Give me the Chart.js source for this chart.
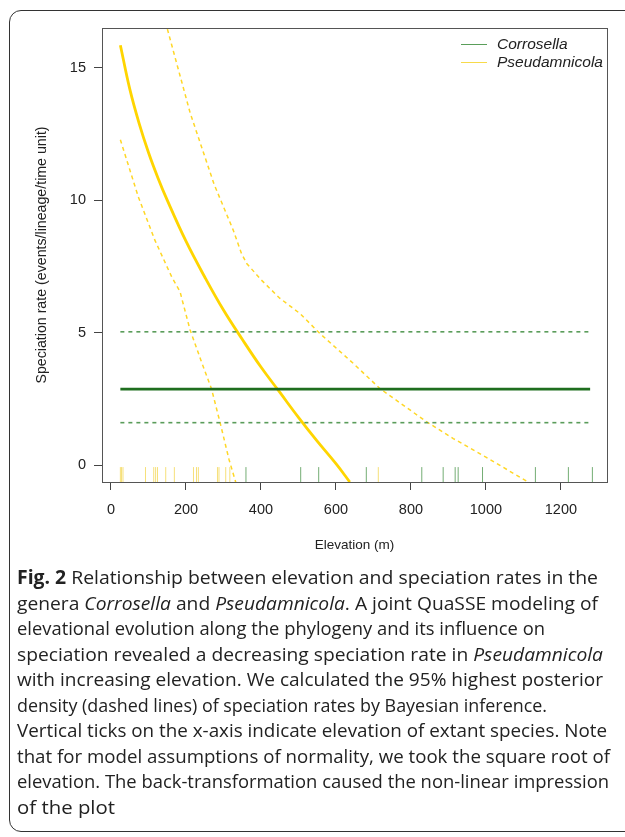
<!DOCTYPE html>
<html>
<head>
<meta charset="utf-8">
<script src="https://cdn.jsdelivr.net/npm/chart.js@4.4.1/dist/chart.umd.min.js"></script>
<style>
  body { margin: 0; background: #fff; width: 625px; height: 837px; overflow: hidden; position: relative; }
  #frame { position: absolute; left: 9px; top: 10px; width: 660px; height: 820px; border: 1.5px solid #333; border-radius: 12px; }
  #chart1 { position: absolute; left: 0; top: 0; }
  .leg { position: absolute; font: italic 15.5px "Liberation Sans", Arial, sans-serif; color: #222; }
  .leg span { display: inline-block; width: 26px; height: 0; vertical-align: middle; margin-right: 10px; }
  #caption { position: absolute; left: 17px; top: 565px; font-family: "Open Sans", sans-serif; font-size: 18.8px; line-height: 25.5px; color: #222; white-space: nowrap; }
  #caption div { height: 25.5px; transform-origin: 0 50%; }
</style>
</head>
<body>
<div id="frame"></div>
<canvas id="chart1" width="625" height="570"></canvas>
<div class="leg" style="left:461px; top:35px;"><span style="border-top:1.5px solid #5a9e5a;"></span>Corrosella</div>
<div class="leg" style="left:461px; top:53px;"><span style="border-top:1.5px solid #f7da4a;"></span>Pseudamnicola</div>
<div id="caption">
<div><b>Fig. 2</b> Relationship between elevation and speciation rates in the</div>
<div>genera <i>Corrosella</i> and <i>Pseudamnicola</i>. A joint QuaSSE modeling of</div>
<div>elevational evolution along the phylogeny and its influence on</div>
<div>speciation revealed a decreasing speciation rate in <i>Pseudamnicola</i></div>
<div>with increasing elevation. We calculated the 95% highest posterior</div>
<div>density (dashed lines) of speciation rates by Bayesian inference.</div>
<div>Vertical ticks on the x-axis indicate elevation of extant species. Note</div>
<div>that for model assumptions of normality, we took the square root of</div>
<div>elevation. The back-transformation caused the non-linear impression</div>
<div>of the plot</div>
</div>
<script>
// Pseudamnicola: media y limites 95% HPD
const elevPseudo = [25, 50, 75, 100, 125, 150, 200, 250, 300, 350, 400, 450, 500, 550, 600, 637];
const ratePseudo = [15.85, 14.2, 12.9, 11.8, 10.85, 10.0, 8.45, 7.1, 5.85, 4.75, 3.7, 2.75, 1.8, 0.9, 0.05, -0.64];

const elevPseudoUp = [120, 150, 211, 275, 326, 348, 362, 400, 450, 504, 557, 646, 717, 842, 913, 1000, 1104, 1150];
const ratePseudoUp = [18.1, 16.48, 13.3, 10.6, 8.87, 7.99, 7.61, 7.0, 6.3, 5.72, 4.97, 3.84, 2.89, 1.63, 1.0, 0.3, -0.57, -0.95];

const elevPseudoLow = [25, 73, 117, 162, 184, 211, 240, 268, 291, 315, 340];
const ratePseudoLow = [12.28, 10.12, 8.49, 7.1, 6.55, 5.1, 3.95, 2.88, 1.6, 0.2, -1.0];

// Corrosella: tasa constante
const elevCorro = [25, 1278];
const rateCorro = [2.87, 2.87];
const rateCorroUp = [5.03, 5.03];
const rateCorroLow = [1.6, 1.6];

// Elevacion de especies actuales (rug)
const rugPseudo = [25, 28, 32, 92, 114, 119, 124, 146, 169, 220, 228, 233, 284, 288, 306, 317, 713];
const rugCorro = [360, 506, 554, 681, 829, 886, 918, 926, 991, 1132, 1220, 1284];

const xTicks = [0, 200, 400, 600, 800, 1000, 1200];
const yTicks = [0, 5, 10, 15];

const RUG_Y = -0.36;

// Ancho de cada linea del pie de figura (px)
const captionWidths = [581, 581, 528, 586, 586, 530, 590, 593, 592, 98];

function pts(xs, ys) {
  return xs.map((x, i) => ({ x: x, y: ys[i] }));
}
function rug(xs) {
  return xs.map(x => ({ x: x, y: RUG_Y }));
}

// Escala horizontal de cada linea para igualar el ancho del original
document.querySelectorAll("#caption div").forEach((el, i) => {
  el.style.display = "inline-block";
  const w = el.getBoundingClientRect().width;
  el.style.display = "block";
  el.style.transform = "scaleX(" + (captionWidths[i] / w) + ")";
});

// Caja alrededor del area del grafico
const boxPlugin = {
  id: "box",
  afterDraw(chart) {
    const a = chart.chartArea;
    const ctx = chart.ctx;
    ctx.save();
    ctx.strokeStyle = "#555";
    ctx.lineWidth = 1;
    ctx.strokeRect(Math.round(a.left) + 0.5, Math.round(a.top) + 0.5, Math.round(a.right - a.left), Math.round(a.bottom - a.top));
    ctx.restore();
  },
};

const tickFont = { family: "'Liberation Sans', Arial, Helvetica, sans-serif", size: 14.5 };

var ctx1 = document.getElementById("chart1").getContext("2d");
var chart1 = new Chart(ctx1, {
  type: "scatter",
  data: {
    datasets: [
      {
        label: "Pseudamnicola rug",
        data: rug(rugPseudo),
        pointStyle: "line",
        rotation: 90,
        pointRadius: 7.5,
        pointBorderWidth: 1,
        pointBorderColor: "#f6e07a",
        pointBackgroundColor: "#f6e07a",
      },
      {
        label: "Corrosella rug",
        data: rug(rugCorro),
        pointStyle: "line",
        rotation: 90,
        pointRadius: 7.5,
        pointBorderWidth: 1,
        pointBorderColor: "#74ad74",
        pointBackgroundColor: "#74ad74",
      },
      {
        label: "Corrosella upper",
        data: pts(elevCorro, rateCorroUp),
        showLine: true,
        borderColor: "#5a9c5a",
        borderWidth: 1.6,
        borderDash: [4, 4],
        pointRadius: 0,
      },
      {
        label: "Corrosella lower",
        data: pts(elevCorro, rateCorroLow),
        showLine: true,
        borderColor: "#5a9c5a",
        borderWidth: 1.6,
        borderDash: [4, 4],
        pointRadius: 0,
      },
      {
        label: "Corrosella",
        data: pts(elevCorro, rateCorro),
        showLine: true,
        borderColor: "#1f6e1f",
        borderWidth: 2.8,
        pointRadius: 0,
      },
      {
        label: "Pseudamnicola upper",
        data: pts(elevPseudoUp, ratePseudoUp),
        showLine: true,
        borderColor: "#ffd726",
        borderWidth: 1.5,
        borderDash: [4, 3.5],
        pointRadius: 0,
      },
      {
        label: "Pseudamnicola lower",
        data: pts(elevPseudoLow, ratePseudoLow),
        showLine: true,
        borderColor: "#ffd726",
        borderWidth: 1.5,
        borderDash: [4, 3.5],
        pointRadius: 0,
      },
      {
        label: "Pseudamnicola",
        data: pts(elevPseudo, ratePseudo),
        showLine: true,
        borderColor: "#ffd500",
        borderWidth: 2.8,
        tension: 0.4,
        pointRadius: 0,
      },
    ],
  },
  options: {
    responsive: false,
    animation: false,
    events: [],
    layout: { padding: { top: 28, right: 18, left: 0, bottom: 0 } },
    plugins: {
      legend: { display: false },
      tooltip: { enabled: false },
    },
    scales: {
      x: {
        type: "linear",
        min: -24,
        max: 1323,
        afterFit: s => { s.height = 88; },
        afterBuildTicks: s => { s.ticks = xTicks.map(v => ({ value: v })); },
        border: { display: false },
        grid: { display: true, drawOnChartArea: false, drawTicks: true, tickLength: 8, color: "#444" },
        ticks: { color: "#222", font: tickFont, padding: 11, maxRotation: 0, callback: v => String(v) },
        title: {
          display: true,
          text: "Elevation (m)",
          color: "#222",
          font: { family: tickFont.family, size: 13.5 },
          padding: { top: 0, bottom: 16.6 },
        },
      },
      y: {
        type: "linear",
        min: -0.64,
        max: 16.5,
        afterFit: s => { s.width = 102; },
        afterBuildTicks: s => { s.ticks = yTicks.map(v => ({ value: v })); },
        border: { display: false },
        grid: { display: true, drawOnChartArea: false, drawTicks: true, tickLength: 8, color: "#444" },
        ticks: { color: "#222", font: tickFont, padding: 8, callback: v => String(v) },
        title: {
          display: true,
          text: "Speciation rate (events/lineage/time unit)",
          color: "#222",
          font: { family: tickFont.family, size: 14.2 },
          padding: { top: 33.6, bottom: 0 },
        },
      },
    },
  },
  plugins: [boxPlugin],
});
</script>
</body>
</html>
